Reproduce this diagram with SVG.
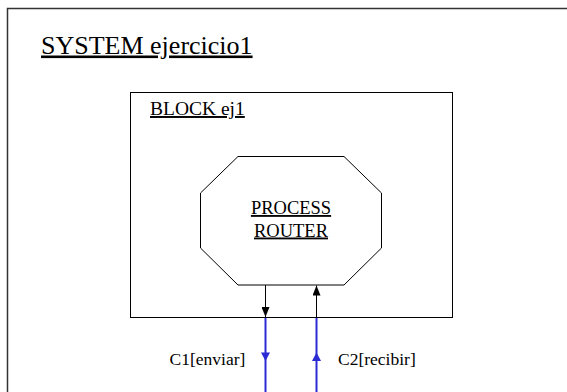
<svg xmlns="http://www.w3.org/2000/svg" width="567" height="392" viewBox="0 0 567 392">
<defs>
<style>
text{font-family:'Liberation Serif','Times New Roman','DejaVu Serif',serif}
.u{text-decoration:underline}
.blk{fill:none;stroke:#000;stroke-width:1}
.sig{stroke:#2b2bd6;stroke-width:2;fill:none}
.ch{stroke:#000;stroke-width:1;fill:none}
</style>
<marker id="ab" viewBox="0 0 10 8" refX="10" refY="4" markerWidth="10" markerHeight="8" markerUnits="userSpaceOnUse" orient="auto"><path d="M0,0 L10,4 L0,8 z" fill="#000"/></marker>
</defs>
<rect x="0" y="0" width="567" height="392" fill="#fff"/>
<g fill="#000">
<g id="system">
<path d="M7.5,400 V8.5 H580" fill="none" stroke="#333" stroke-width="1.5"/>
<text class="u" x="41" y="53.5" font-size="26">SYSTEM ejercicio1</text>
</g>
<g id="block">
<rect x="130.5" y="92.5" width="322" height="225" class="blk"/>
<text class="u" x="150" y="115" font-size="19.5">BLOCK ej1</text>
</g>
<g id="process">
<polygon points="238,156.5 344,156.5 381.5,193 381.5,248 344,285 238,285 200.5,248 200.5,193" fill="#fff" stroke="#000" stroke-width="1"/>
<text class="u" x="291" y="214" font-size="18.5" text-anchor="middle">PROCESS</text>
<text class="u" x="291" y="236.5" font-size="18.5" text-anchor="middle">ROUTER</text>
</g>
<g id="connectors">
<line x1="265.5" y1="285" x2="265.5" y2="317" class="ch" marker-end="url(#ab)"/>
<line x1="316.5" y1="317" x2="316.5" y2="285.5" class="ch" marker-end="url(#ab)"/>
<line x1="265.5" y1="318" x2="265.5" y2="392" class="sig"/>
<line x1="316.5" y1="318" x2="316.5" y2="392" class="sig"/>
<polygon points="261,352.5 270,352.5 265.5,361" fill="#2b2bd6"/>
<polygon points="312,361 321,361 316.5,352.5" fill="#2b2bd6"/>
<text x="169.5" y="364.5" font-size="17.5">C1[enviar]</text>
<text x="338" y="364.5" font-size="17.5">C2[recibir]</text>
</g>
</g>
</svg>
